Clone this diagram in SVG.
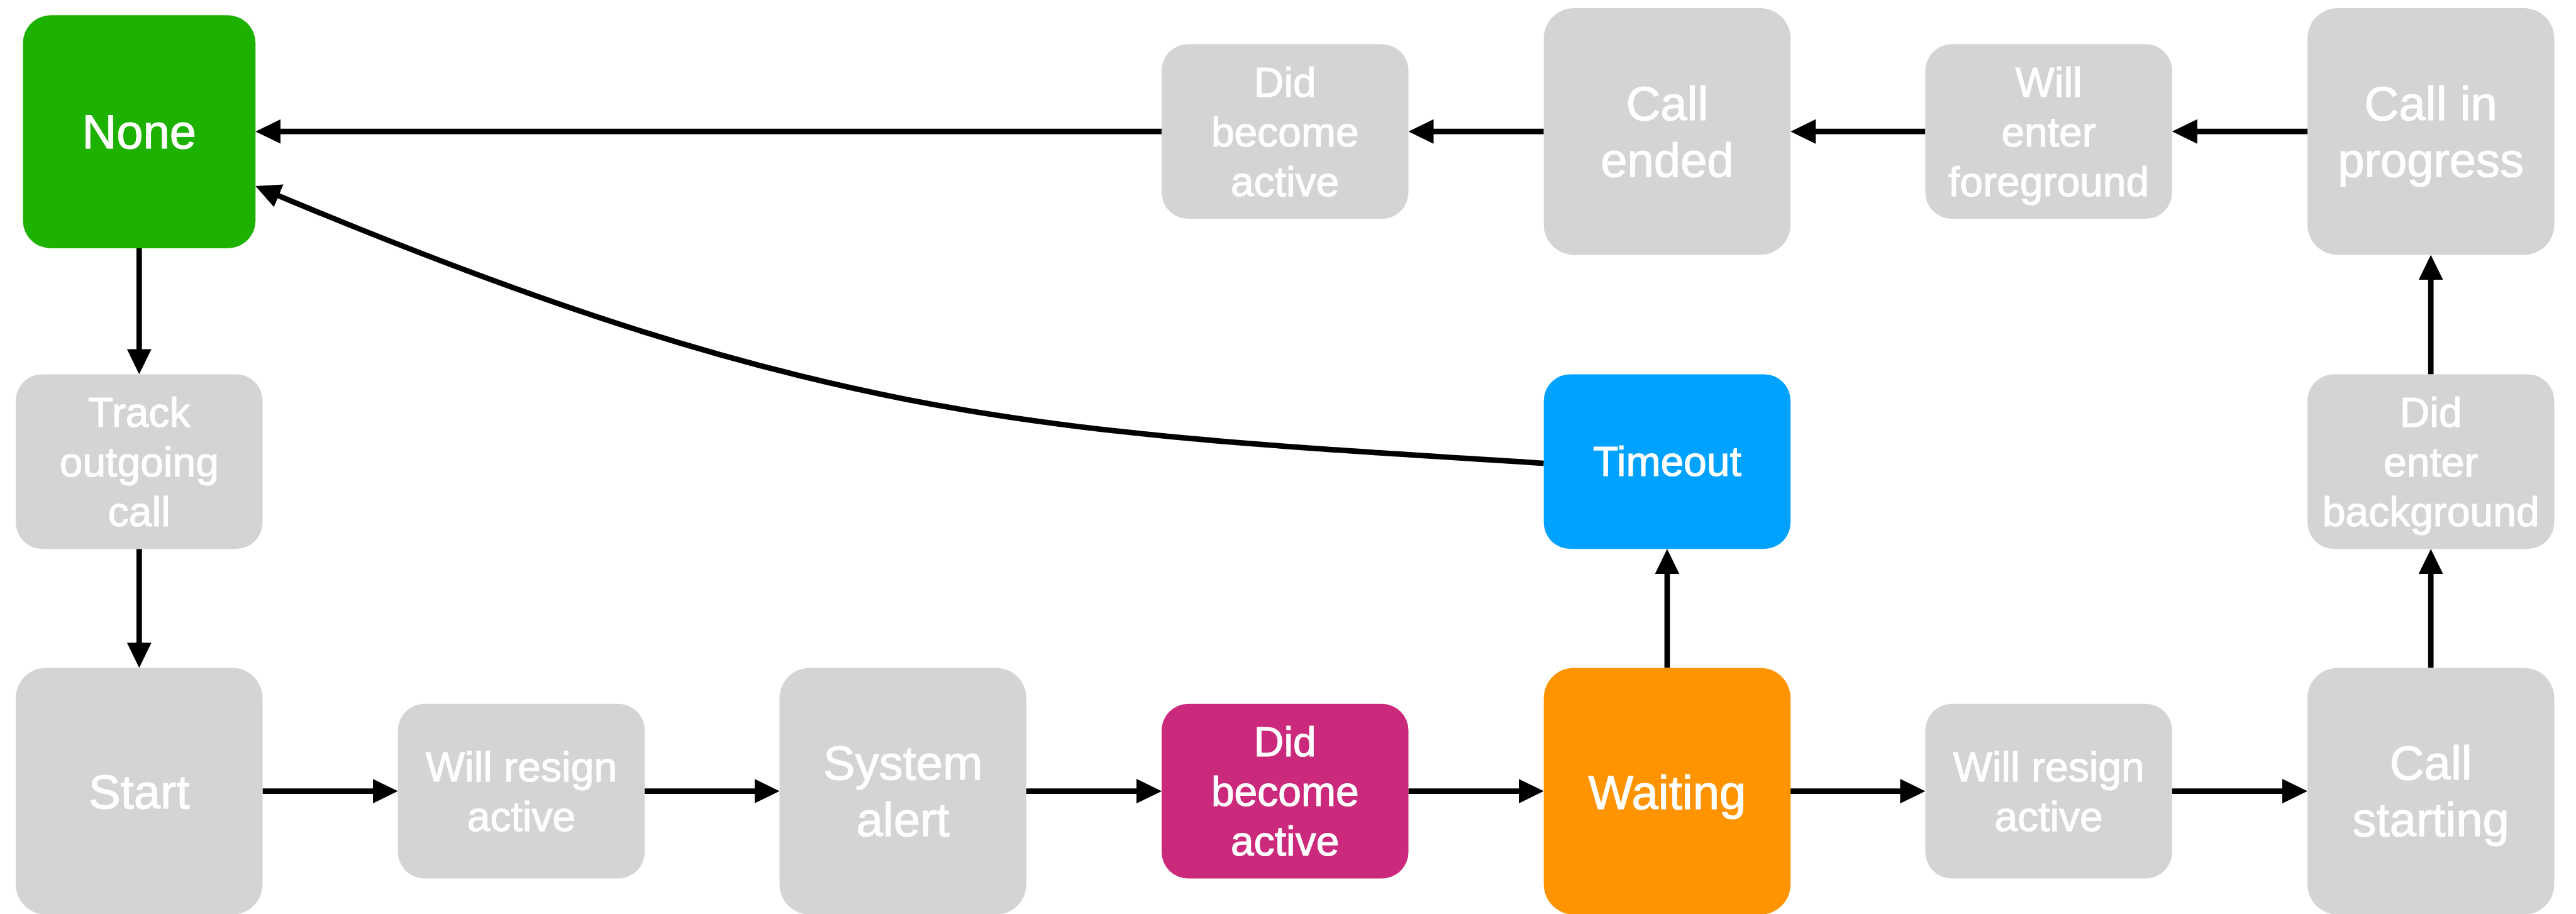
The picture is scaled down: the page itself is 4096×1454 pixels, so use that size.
<svg xmlns="http://www.w3.org/2000/svg" width="4096" height="1454" viewBox="0 0 4096 1454">
<style>
.n{fill:#D4D4D4}
.green{fill:#1DB100}
.blue{fill:#00A2FF}
.orange{fill:#FF9300}
.pink{fill:#CB297B}
.t{fill:#FFFFFF;stroke:#FFFFFF;stroke-width:1.2;font-family:"Helvetica Neue",Helvetica,"Liberation Sans",Arial,sans-serif;text-anchor:middle}
.big{font-size:76px}
.sm{font-size:66px}
.c{fill:none;stroke:#000;stroke-width:8.7;marker-end:url(#ah)}
</style>
<defs>
<marker id="ah" markerUnits="userSpaceOnUse" markerWidth="40" markerHeight="39" refX="2" refY="19.5" orient="auto">
<path d="M0,0 L40,19.5 L0,39 Z" fill="#000"/>
</marker>
</defs>
<rect width="4096" height="1454" fill="#FFFFFF"/>
<g id="connectors">
<path class="c" d="M1847.1,209.2 H444.2"/>
<path class="c" d="M2454.7,209.2 H2277.5"/>
<path class="c" d="M3061.4,209.2 H2885.1"/>
<path class="c" d="M3669,209.2 H3491.8"/>
<path class="c" d="M3865.2,595.4 V443.4"/>
<path class="c" d="M3865.2,1062.4 V911.2"/>
<path class="c" d="M3453.8,1258.6 H3631"/>
<path class="c" d="M2847.1,1258.6 H3023.4"/>
<path class="c" d="M2239.5,1258.6 H2416.7"/>
<path class="c" d="M1631.9,1258.6 H1809.1"/>
<path class="c" d="M1025.1,1258.6 H1201.5"/>
<path class="c" d="M417.5,1258.6 H594.7"/>
<path class="c" d="M2650.9,1062.4 V911.2"/>
<path class="c" d="M221.3,394.9 V557.4"/>
<path class="c" d="M221.3,873.2 V1024.4"/>
<path class="c" d="M2454.7,737 C1672.6,686.6 1326.3,681.4 441.3,310.7"/>
</g>
<g id="none"><rect class="green" x="36.5" y="24.3" width="369.8" height="370.6" rx="44"/><text class="t big" x="221.3" y="236">None</text></g>
<g id="track-outgoing-call"><rect class="n" x="25.1" y="595.4" width="392.4" height="277.8" rx="42"/><text class="t sm" x="221.3" y="678.8">Track</text><text class="t sm" x="221.3" y="757.8">outgoing</text><text class="t sm" x="221.3" y="836.8">call</text></g>
<g id="start"><rect class="n" x="25.1" y="1062.4" width="392.4" height="392.4" rx="48"/><text class="t big" x="221.3" y="1286">Start</text></g>
<g id="will-resign-active-1"><rect class="n" x="632.7" y="1119.7" width="392.4" height="277.8" rx="42"/><text class="t sm" x="828.9" y="1243">Will resign</text><text class="t sm" x="828.9" y="1322">active</text></g>
<g id="system-alert"><rect class="n" x="1239.5" y="1062.4" width="392.4" height="392.4" rx="48"/><text class="t big" x="1435.7" y="1240.2">System</text><text class="t big" x="1435.7" y="1330.1">alert</text></g>
<g id="did-become-active-2"><rect class="pink" x="1847.1" y="1119.7" width="392.4" height="277.8" rx="42"/><text class="t sm" x="2043.3" y="1203.1">Did</text><text class="t sm" x="2043.3" y="1282.1">become</text><text class="t sm" x="2043.3" y="1361.1">active</text></g>
<g id="waiting"><rect class="orange" x="2454.7" y="1062.4" width="392.4" height="392.4" rx="48"/><text class="t big" x="2650.9" y="1287">Waiting</text></g>
<g id="will-resign-active-2"><rect class="n" x="3061.4" y="1119.7" width="392.4" height="277.8" rx="42"/><text class="t sm" x="3257.6" y="1243">Will resign</text><text class="t sm" x="3257.6" y="1322">active</text></g>
<g id="call-starting"><rect class="n" x="3669" y="1062.4" width="392.4" height="392.4" rx="48"/><text class="t big" x="3865.2" y="1240.2">Call</text><text class="t big" x="3865.2" y="1330.1">starting</text></g>
<g id="did-enter-background"><rect class="n" x="3669" y="595.4" width="392.4" height="277.8" rx="42"/><text class="t sm" x="3865.2" y="678.8">Did</text><text class="t sm" x="3865.2" y="757.8">enter</text><text class="t sm" x="3865.2" y="836.8">background</text></g>
<g id="call-in-progress"><rect class="n" x="3669" y="13" width="392.4" height="392.4" rx="48"/><text class="t big" x="3865.2" y="190.8">Call in</text><text class="t big" x="3865.2" y="280.7">progress</text></g>
<g id="will-enter-foreground"><rect class="n" x="3061.4" y="70.3" width="392.4" height="277.8" rx="42"/><text class="t sm" x="3257.6" y="153.7">Will</text><text class="t sm" x="3257.6" y="232.7">enter</text><text class="t sm" x="3257.6" y="311.7">foreground</text></g>
<g id="call-ended"><rect class="n" x="2454.7" y="13" width="392.4" height="392.4" rx="48"/><text class="t big" x="2650.9" y="190.8">Call</text><text class="t big" x="2650.9" y="280.7">ended</text></g>
<g id="did-become-active-1"><rect class="n" x="1847.1" y="70.3" width="392.4" height="277.8" rx="42"/><text class="t sm" x="2043.3" y="153.7">Did</text><text class="t sm" x="2043.3" y="232.7">become</text><text class="t sm" x="2043.3" y="311.7">active</text></g>
<g id="timeout"><rect class="blue" x="2454.7" y="595.4" width="392.4" height="277.8" rx="42"/><text class="t sm" x="2650.9" y="757.3">Timeout</text></g>
</svg>
